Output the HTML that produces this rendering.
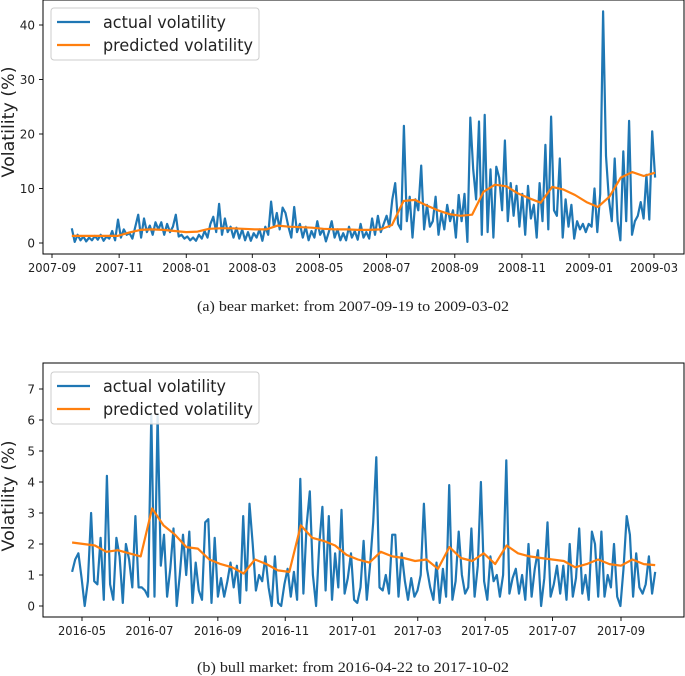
<!DOCTYPE html>
<html><head><meta charset="utf-8"><style>
body{margin:0;background:#fff;width:685px;height:676px;overflow:hidden}
svg{display:block;font-family:"DejaVu Sans","Liberation Sans",sans-serif}
</style></head><body>
<svg id="s" width="685" height="676"></svg>
<script>
const bearActual=[2.7,0.2,1.5,0.5,1.2,0.3,1.0,0.5,1.3,0.6,1.5,0.4,1.2,0.8,2.2,0.5,4.3,1.0,2.5,1.5,1.8,0.8,3.0,5.2,1.0,4.5,2.0,3.2,1.5,3.8,2.5,3.8,1.5,3.5,2.0,3.0,5.2,1.2,1.5,0.8,1.2,0.5,1.0,0.4,1.5,0.8,2.2,1.0,3.5,4.8,2.0,7.2,1.5,4.5,2.0,3.0,1.0,2.8,0.8,2.5,0.5,2.0,0.4,1.8,1.0,2.5,0.4,3.0,1.5,7.6,3.0,5.5,2.5,6.5,5.5,3.0,1.0,6.6,2.0,3.5,1.0,3.0,0.5,2.2,1.0,4.0,1.5,2.5,0.3,2.0,4.0,1.0,2.5,0.5,1.8,0.5,3.0,1.0,2.2,0.6,3.5,1.0,2.0,0.8,4.5,1.5,5.0,2.0,3.5,5.0,3.0,8.0,11.0,3.5,2.5,21.5,4.0,8.5,1.0,8.0,6.0,14.2,2.5,7.0,3.0,4.0,8.5,1.5,5.5,2.5,7.0,4.0,6.0,1.0,8.8,4.0,9.0,0.2,23.0,13.5,8.0,22.3,1.5,23.5,2.0,13.5,1.0,14.0,12.0,6.0,18.8,4.0,11.0,5.0,10.5,3.0,9.0,1.5,10.5,4.5,7.0,1.0,11.0,4.0,18.0,2.5,23.2,6.0,5.0,15.5,1.0,8.0,3.0,7.0,0.8,4.0,2.5,3.5,2.0,3.5,3.0,10.0,2.0,9.0,42.5,16.0,8.0,4.0,15.5,4.0,0.5,16.8,4.0,22.4,1.5,4.0,5.0,7.5,4.5,12.5,4.3,20.5,12.0];
const bearPred=[1.3,1.3,1.3,1.3,1.3,1.9,2.4,2.5,2.4,2.2,2.0,2.1,2.6,2.7,2.7,2.6,2.5,2.5,3.2,3.0,2.9,2.8,2.6,2.5,2.5,2.4,2.4,2.5,3.3,7.7,7.9,6.9,6.0,5.3,5.0,5.2,9.4,10.7,10.4,9.1,8.2,7.4,10.3,9.8,8.8,7.5,6.6,8.5,12.0,13.0,12.3,12.9];
const bullActual=[1.1,1.5,1.7,0.9,0.0,0.8,3.0,0.8,0.7,2.2,0.2,4.2,0.7,0.2,2.2,1.6,0.1,2.0,1.5,0.6,2.9,0.6,0.6,0.5,0.3,6.2,0.3,6.2,1.3,2.3,0.3,1.2,2.5,0.0,1.0,2.3,1.0,2.4,0.1,1.4,0.5,0.2,2.7,2.8,0.1,2.2,0.3,0.9,0.3,0.8,1.4,0.6,1.3,0.1,2.9,0.5,3.3,2.0,0.5,1.0,0.8,1.6,0.6,0.0,1.6,0.1,0.0,0.7,1.2,0.3,1.1,0.2,4.1,0.4,2.6,3.7,1.0,0.0,2.0,3.2,0.5,2.9,0.2,1.7,0.6,3.1,0.4,0.9,1.7,0.2,0.1,0.6,2.1,0.2,1.3,2.7,4.8,0.6,0.5,1.0,0.4,2.3,2.3,0.3,1.7,0.8,0.2,0.9,0.3,0.5,1.0,3.3,1.2,0.6,0.2,1.4,0.1,1.2,0.3,3.9,0.2,0.8,2.4,1.0,0.4,0.6,2.5,0.3,1.3,4.0,0.8,0.2,1.6,0.8,1.0,0.3,1.0,4.7,0.4,0.9,1.2,0.4,1.0,0.2,2.0,0.3,1.2,1.8,0.0,0.9,2.7,0.3,0.7,1.3,0.4,1.3,0.2,2.0,0.3,0.9,2.5,0.4,1.0,0.2,2.4,2.0,0.3,2.4,0.3,1.0,0.6,2.0,0.3,0.0,1.2,2.9,2.3,0.3,1.7,0.6,0.4,0.7,1.6,0.4,1.1];
const bullPred=[2.05,2.0,1.95,1.75,1.8,1.7,1.6,3.15,2.6,2.3,1.9,1.85,1.5,1.35,1.25,1.05,1.5,1.35,1.15,1.1,2.6,2.2,2.1,1.95,1.65,1.5,1.4,1.75,1.6,1.55,1.45,1.5,1.2,1.9,1.55,1.45,1.7,1.35,1.95,1.7,1.6,1.55,1.5,1.45,1.25,1.35,1.5,1.35,1.3,1.5,1.35,1.32];
const bearXTicks=["2007-09","2007-11","2008-01","2008-03","2008-05","2008-07","2008-09","2008-11","2009-01","2009-03"];
const bearYTicks=[0,10,20,30,40];
const bullXTicks=["2016-05","2016-07","2016-09","2016-11","2017-01","2017-03","2017-05","2017-07","2017-09"];
const bullYTicks=[0,1,2,3,4,5,6,7];
const bearRange=["2007-09-19","2009-03-02"], bullRange=["2016-04-22","2017-10-02"];

const NS="http://www.w3.org/2000/svg", S=document.getElementById('s');
function mk(t,a,p){const e=document.createElementNS(NS,t);for(const k in a)e.setAttribute(k,a[k]);(p||S).appendChild(e);return e;}
const day=s=>Date.parse(s+"T00:00:00Z")/864e5;
function chart(o){
  const g=mk('g',{});
  
  
  const X=d=>o.x0+(d-day(o.ref0))*o.pxd;
  const Y=v=>o.y0-v*o.pyu;
  const ax=mk('rect',{x:43,y:o.top,width:641,height:o.bot-o.top,fill:'none',stroke:'#000','stroke-width':1},g);
  
  
  o.xt.forEach(t=>{const x=X(day(t+"-01"));
    mk('line',{x1:x,x2:x,y1:o.bot,y2:o.bot+4,stroke:'#000','stroke-width':0.9},g);
    const tx=mk('text',{x:x,y:o.bot+18,'font-size':12,'text-anchor':'middle',fill:'#222',textLength:48,lengthAdjust:'spacingAndGlyphs'},g);tx.textContent=t;
    
    });
  o.yt.forEach(v=>{const y=Y(v);
    mk('line',{x1:39,x2:43,y1:y,y2:y,stroke:'#000','stroke-width':0.9},g);
    const tx=mk('text',{x:35,y:y+4.5,'font-size':12,'text-anchor':'end',fill:'#222'},g);tx.textContent=v;
    
    });
  const d0=day(o.range[0]),d1=day(o.range[1]);
  function series(arr,col,nm){const n=arr.length;
    const pts=arr.map((v,i)=>X(d0+(d1-d0)*i/(n-1)).toFixed(1)+','+Y(v).toFixed(1)).join(' ');
    const p=mk('polyline',{points:pts,fill:'none',stroke:col,'stroke-width':2.2,'stroke-linejoin':'round'},g);
    
    }
  series(o.actual,'#1f77b4','actual-volatility-line');
  series(o.pred,'#ff7f0e','predicted-volatility-line');
  const yl=mk('text',{transform:`translate(${o.ylx},${o.yly}) rotate(-90)`,'font-size':17,'text-anchor':'middle',fill:'#222',textLength:111,lengthAdjust:'spacingAndGlyphs'},g);
  yl.textContent='Volatility (%)';
  
  
  const lg=mk('g',{},g);
  
  
  mk('rect',{x:51,y:o.lt,width:208,height:52,rx:3,fill:'#fff','fill-opacity':0.85,stroke:'#ccc'},lg);
  [['actual volatility','#1f77b4',123],['predicted volatility','#ff7f0e',150]].forEach((e,i)=>{
    const y=o.lt+14+i*23;
    mk('line',{x1:57,x2:90,y1:y,y2:y,stroke:e[1],'stroke-width':2.2},lg);
    const t=mk('text',{x:103,y:y+6,'font-size':17,fill:'#222',textLength:e[2],lengthAdjust:'spacingAndGlyphs'},lg);t.textContent=e[0];
    
    });
  const c=mk('text',{x:353,y:o.cap,'font-size':15,'text-anchor':'middle',fill:'#222','font-family':'"Liberation Serif",serif',textLength:312,lengthAdjust:'spacingAndGlyphs'},g);
  c.textContent=o.caption;
  
  
}
chart({name:'bear-market-chart',top:0,bot:254,x0:52,ref0:'2007-09-01',pxd:602/547,y0:243,pyu:5.45,
  xt:bearXTicks,yt:bearYTicks,range:bearRange,actual:bearActual,pred:bearPred,ylx:14,yly:122,lt:8,cap:311,
  caption:'(a) bear market: from 2007-09-19 to 2009-03-02'});
chart({name:'bull-market-chart',top:363,bot:617,x0:82,ref0:'2016-05-01',pxd:539/488,y0:606,pyu:31,
  xt:bullXTicks,yt:bullYTicks,range:bullRange,actual:bullActual,pred:bullPred,ylx:14,yly:496,lt:372,cap:672,
  caption:'(b) bull market: from 2016-04-22 to 2017-10-02'});
</script>
</body></html>
